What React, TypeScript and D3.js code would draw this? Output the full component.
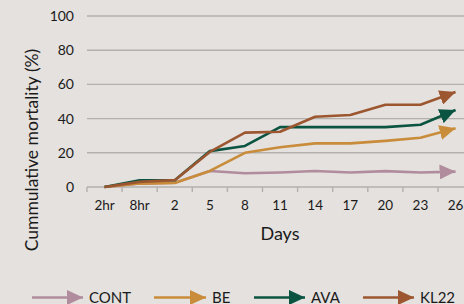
import { useRef, useEffect } from 'react';
import * as d3 from 'd3';

const days = ['2hr', '8hr', '2', '5', '8', '11', '14', '17', '20', '23', '26'];
const cont = [0, 2, 2.5, 9.4, 8, 8.5, 9.4, 8.5, 9.3, 8.5, 9];
const be = [0, 2, 2.3, 9.4, 20, 23.2, 25.5, 25.5, 27, 28.8, 34.3];
const ava = [0, 3.9, 4, 21, 24, 35, 35, 35, 35, 36.4, 45];
const kl22 = [0, 3, 4, 20.5, 31.8, 32.3, 41.1, 42.1, 48.1, 48.1, 55.5];
const yTicks = [0, 20, 40, 60, 80, 100];

const seriesNames = ['CONT', 'BE', 'AVA', 'KL22'];
const seriesValues = [cont, be, ava, kl22];
const colors = ['#b18c9c', '#c98c3a', '#0b5441', '#9c5731'];

const FONT = 'Lato, "Open Sans", sans-serif';

const MortalityChart = () => {
  const ref = useRef<SVGSVGElement>(null);

  useEffect(() => {
    const svg = d3.select(ref.current);
    svg.selectAll('*').remove();

    const width = 464;
    const height = 304;
    const left = 87;
    const top = 16;
    const bottom = 187;

    const x = d3.scaleBand().domain(days).range([left, left + 35.1 * days.length]).paddingInner(0);
    const y = d3.scaleLinear().domain([0, 100]).range([bottom, top]);

    svg.append('rect').attr('width', width).attr('height', height).attr('fill', '#e4e1de');

    const defs = svg.append('defs');
    colors.forEach((c, i) => {
      defs.append('marker')
        .attr('id', `arrow${i}`)
        .attr('markerUnits', 'userSpaceOnUse')
        .attr('markerWidth', 17)
        .attr('markerHeight', 15)
        .attr('refX', 16)
        .attr('refY', 7.5)
        .attr('orient', 'auto')
        .append('path')
        .attr('d', 'M0,0 L16,7.5 L0,15 Z')
        .attr('fill', c);
    });

    // gridlines + y labels
    svg.append('g')
      .selectAll('line')
      .data(yTicks.filter(d => d > 0))
      .enter().append('line')
      .attr('x1', left).attr('x2', width)
      .attr('y1', d => y(d)).attr('y2', d => y(d))
      .attr('stroke', '#b3b0ad').attr('stroke-width', 1.4);

    svg.append('g')
      .selectAll('text')
      .data(yTicks)
      .enter().append('text')
      .attr('x', 74)
      .attr('y', d => y(d))
      .attr('dy', '0.35em')
      .attr('text-anchor', 'end')
      .attr('font-family', FONT)
      .attr('font-size', 14)
      .attr('fill', '#1a1a1a')
      .text(d => d);

    // x axis
    const xAxis = svg.append('g').attr('transform', `translate(0, ${bottom})`);
    xAxis.append('line').attr('x1', left).attr('x2', width)
      .attr('stroke', '#b3b0ad').attr('stroke-width', 1.4);
    xAxis.selectAll('.tick')
      .data(days)
      .enter().append('line')
      .attr('x1', d => x(d)!).attr('x2', d => x(d)!)
      .attr('y1', 0).attr('y2', 5)
      .attr('stroke', '#b3b0ad').attr('stroke-width', 1.4);
    xAxis.selectAll('text')
      .data(days)
      .enter().append('text')
      .attr('x', d => x(d)! + x.bandwidth() / 2)
      .attr('y', 23)
      .attr('text-anchor', 'middle')
      .attr('font-family', FONT)
      .attr('font-size', 13.5)
      .attr('fill', '#1a1a1a')
      .text(d => d);

    // lines
    const line = d3.line<number>()
      .x((_, i) => x(days[i])! + x.bandwidth() / 2)
      .y(d => y(d));

    seriesValues.forEach((vals, i) => {
      svg.append('path')
        .datum(vals)
        .attr('d', line)
        .attr('fill', 'none')
        .attr('stroke', colors[i])
        .attr('stroke-width', 2.6)
        .attr('stroke-linejoin', 'round')
        .attr('marker-end', `url(#arrow${i})`);
    });

    // axis titles
    svg.append('text')
      .attr('transform', 'translate(38, 150) rotate(-90)')
      .attr('text-anchor', 'middle')
      .attr('font-family', FONT)
      .attr('font-size', 17.5)
      .attr('fill', '#1a1a1a')
      .text('Cummulative mortality (%)');

    svg.append('text')
      .attr('x', 280)
      .attr('y', 240)
      .attr('text-anchor', 'middle')
      .attr('font-family', FONT)
      .attr('font-size', 18)
      .attr('fill', '#1a1a1a')
      .text('Days');

    // legend
    const legendX = [32, 154, 254, 363];
    const legendW = [51, 52, 51, 51];
    const legendY = 297.5;
    const lg = svg.append('g');
    seriesNames.forEach((name, i) => {
      lg.append('line')
        .attr('x1', legendX[i]).attr('x2', legendX[i] + legendW[i])
        .attr('y1', legendY).attr('y2', legendY)
        .attr('stroke', colors[i])
        .attr('stroke-width', 2.6)
        .attr('marker-end', `url(#arrow${i})`);
      lg.append('text')
        .attr('x', legendX[i] + legendW[i] + 6)
        .attr('y', legendY)
        .attr('dy', '0.36em')
        .attr('font-family', FONT)
        .attr('font-size', 15)
        .attr('fill', '#1a1a1a')
        .text(name);
    });
  }, []);

  return (
    <svg ref={ref} width={464} height={304} style={{ position: 'absolute', left: 0, top: 0 }}></svg>
  );
};

export default function App() {
  return <MortalityChart />;
}
